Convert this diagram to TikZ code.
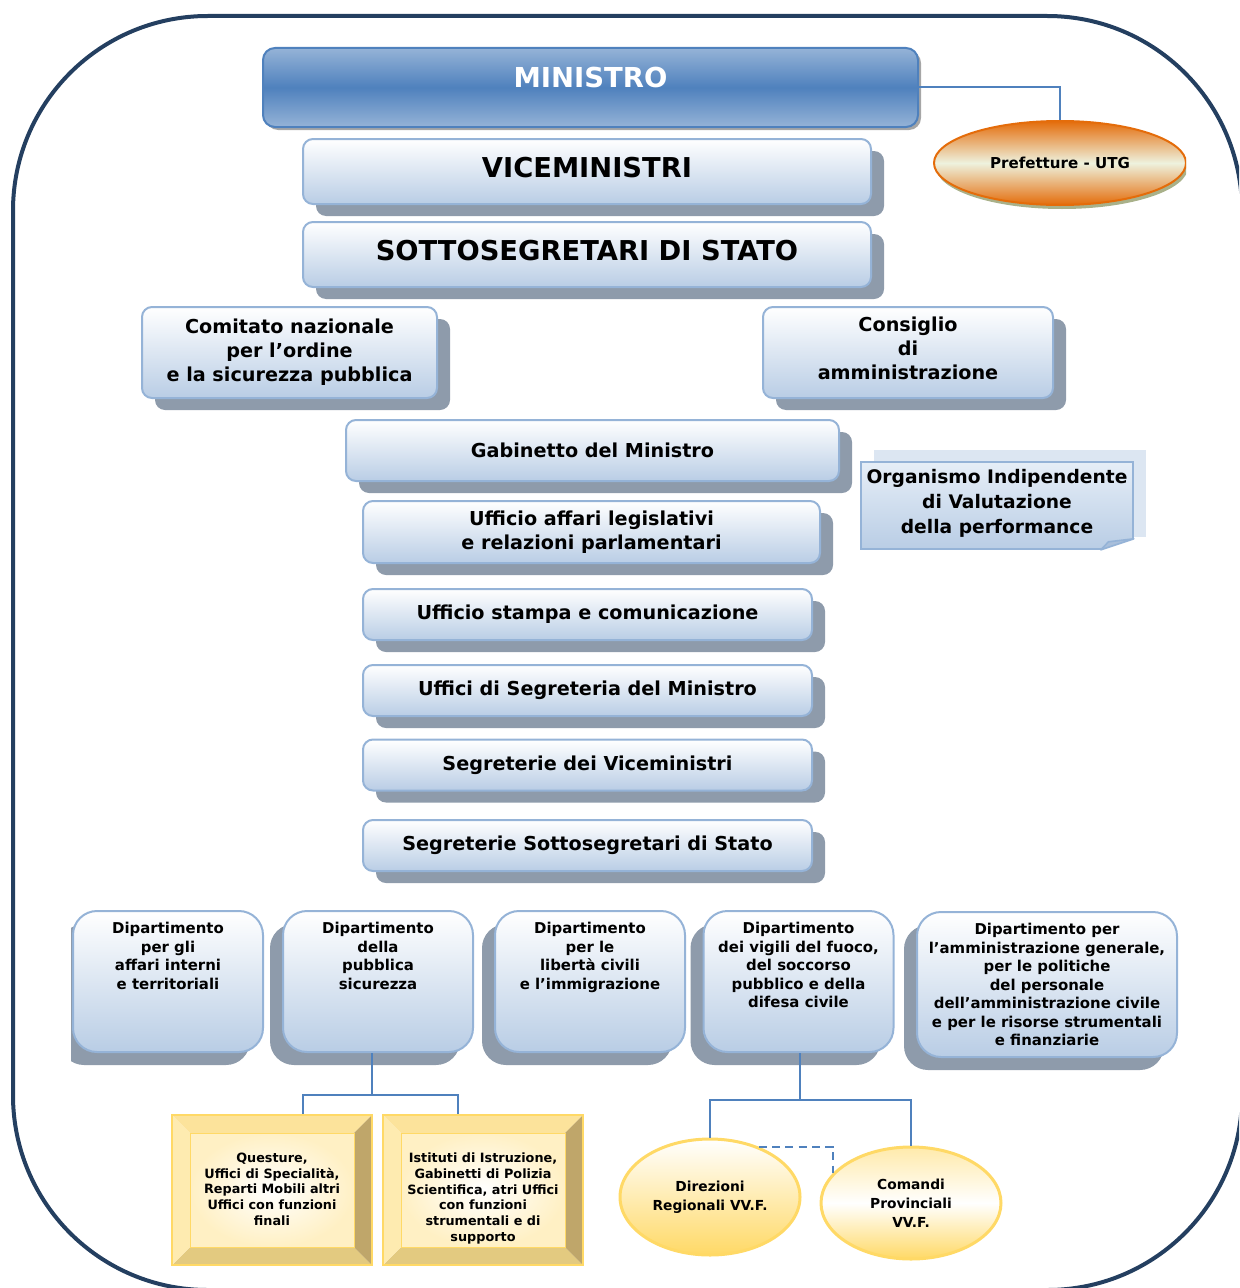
\documentclass[tikz,border=0pt]{standalone}
\usepackage{fontspec}
\setmainfont{DejaVu Sans}
\usetikzlibrary{shapes.geometric,shadows}

\definecolor{frameblue}{HTML}{243F60}
\definecolor{linkblue}{HTML}{4F81BD}
\definecolor{boxline}{HTML}{95B3D7}
\definecolor{boxlow}{HTML}{B9CDE5}
\definecolor{shadowgray}{HTML}{8E9BAB}
\definecolor{minlight}{HTML}{95B3D7}
\definecolor{mindark}{HTML}{4F81BD}
\definecolor{notebg}{HTML}{DCE6F2}
\definecolor{noteup}{HTML}{E6EEF7}
\definecolor{foldblue}{HTML}{A9BFDB}
\definecolor{orangeedge}{HTML}{E46C0A}
\definecolor{cream}{HTML}{EEF2DE}
\definecolor{prefshadow}{HTML}{A9B18A}
\definecolor{gold}{HTML}{FFD966}
\definecolor{goldlight}{HTML}{FFF0C4}
\definecolor{bevtop}{HTML}{FCE39B}
\definecolor{bevleft}{HTML}{FEEBB0}
\definecolor{bevright}{HTML}{BFA66A}
\definecolor{bevbottom}{HTML}{E3CA80}

\tikzset{
  outerframe/.style={draw=frameblue, line width=3pt, rounded corners=146pt},
  link/.style={draw=linkblue, line width=1.5pt},
  panel/.style={rounded corners=7.5pt, draw=boxline, line width=1.5pt, top color=white, bottom color=boxlow, inner sep=0pt, align=center},
  box/.style={panel, font=\bfseries\fontsize{14.4}{18}\selectfont, drop shadow={shadow xshift=9.75pt, shadow yshift=-9pt, fill=shadowgray, opacity=1}},
  bigbox/.style={box, minimum width=426pt, minimum height=48.75pt, text depth=6.5pt, font=\bfseries\fontsize{20.5}{24}\selectfont},
  office/.style={box, minimum width=336.75pt, minimum height=38.25pt},
  minbox/.style={rounded corners=9pt, draw=linkblue, line width=1.5pt, top color=minlight, bottom color=minlight, middle color=mindark, text=white, inner sep=0pt, minimum width=491.25pt, minimum height=59.25pt, text depth=15pt, font=\bfseries\fontsize{20.6}{24}\selectfont, drop shadow={shadow xshift=2.25pt, shadow yshift=-2.25pt, fill=gray!70, opacity=1}},
  note/.style={draw=boxline, line width=1.2pt, top color=noteup, bottom color=boxlow, inner sep=0pt, align=center, minimum width=204pt, minimum height=65.25pt, text depth=6pt, font=\bfseries\fontsize{14}{19}\selectfont, drop shadow={shadow xshift=9.75pt, shadow yshift=9pt, fill=notebg, opacity=1}},
  pref/.style={ellipse, draw=orangeedge, line width=1.5pt, top color=orangeedge, bottom color=orangeedge, middle color=cream, inner sep=0pt, minimum width=189pt, minimum height=63pt, font=\bfseries\fontsize{11.3}{14}\selectfont, drop shadow={shadow xshift=1.5pt, shadow yshift=-3pt, fill=prefshadow, opacity=1}},
  dtext/.style={anchor=north, yshift=-9pt, inner sep=0pt, align=center, font=\bfseries\fontsize{11.2}{13.9}\selectfont},
  dept/.style={panel, rounded corners=18pt, minimum width=142.5pt, minimum height=105.75pt, drop shadow={shadow xshift=-9.75pt, shadow yshift=-9.75pt, fill=shadowgray, opacity=1}, label={[dtext]north:#1}},
  ytext/.style={anchor=north, yshift=-29pt, inner sep=0pt, align=center, font=\bfseries\fontsize{9.6}{11.8}\selectfont},
  ybox/.style={draw=gold, line width=1.5pt, inner sep=0pt, minimum width=150pt, minimum height=112.5pt,
    path picture={
      \fill[bevtop] (path picture bounding box.north west) -- (path picture bounding box.north east) -- ([shift={(-13.5pt,-13.5pt)}]path picture bounding box.north east) -- ([shift={(13.5pt,-13.5pt)}]path picture bounding box.north west) -- cycle;
      \fill[bevbottom] (path picture bounding box.south west) -- (path picture bounding box.south east) -- ([shift={(-13.5pt,13.5pt)}]path picture bounding box.south east) -- ([shift={(13.5pt,13.5pt)}]path picture bounding box.south west) -- cycle;
      \fill[bevleft] (path picture bounding box.north west) -- (path picture bounding box.south west) -- ([shift={(13.5pt,13.5pt)}]path picture bounding box.south west) -- ([shift={(13.5pt,-13.5pt)}]path picture bounding box.north west) -- cycle;
      \fill[bevright] (path picture bounding box.north east) -- (path picture bounding box.south east) -- ([shift={(-13.5pt,13.5pt)}]path picture bounding box.south east) -- ([shift={(-13.5pt,-13.5pt)}]path picture bounding box.north east) -- cycle;
      \shadedraw[inner color=white, outer color=goldlight, draw=gold, line width=0.75pt] ([shift={(13.5pt,13.5pt)}]path picture bounding box.south west) rectangle ([shift={(-13.5pt,-13.5pt)}]path picture bounding box.north east);
    },
    label={[ytext]north:#1}},
  vvf/.style={ellipse, draw=gold, line width=2.25pt, top color=white, bottom color=gold, inner sep=0pt, minimum width=135pt, minimum height=87pt, align=center, font=\bfseries\fontsize{10.35}{14.25}\selectfont}
}

\begin{document}
\begin{tikzpicture}[x=0.75pt,y=-0.75pt]
\useasboundingbox (0,0) rectangle (1239,1288);
\begin{scope}
  \clip (0,0) rectangle (1239,1288);
  \draw[outerframe] (13,16) rectangle (1242,1290);
\end{scope}

\node[minbox] (min) at (590.5,87.5) {MINISTRO};
\begin{scope}
  \clip (0,0) rectangle (1186,1288);
  \node[pref] (pref) at (1060,163) {Prefetture - UTG};
\end{scope}
\node[bigbox] (vice) at (587,171.5) {VICEMINISTRI};
\node[bigbox] (sotto) at (587,254.5) {SOTTOSEGRETARI DI STATO};

\node[box, minimum width=221.25pt, minimum height=68.25pt] (cnosp) at (289.5,352.5) {Comitato nazionale\\per l’ordine\\e la sicurezza pubblica};
\node[box, minimum width=217.5pt, minimum height=68.25pt, text depth=6pt] (cda) at (908,352.5) {Consiglio\\di\\amministrazione};

\node[box, minimum width=369.75pt, minimum height=45.75pt] (gab) at (592.5,450.5) {Gabinetto del Ministro};
\node[note] (oiv) at (997,505.5) {Organismo Indipendente\\di Valutazione\\della performance};
\fill[white] ([xshift=-24.75pt]oiv.south east) -- ([shift={(2pt,-2pt)}]oiv.south east) -- ([yshift=8.25pt]oiv.south east) -- cycle;
\filldraw[fill=foldblue, draw=boxline, line width=1.2pt, line join=round] ([xshift=-24.75pt]oiv.south east) -- ([yshift=8.25pt]oiv.south east) -- ([shift={(-19pt,6pt)}]oiv.south east) -- cycle;

\node[box, minimum width=342.75pt, minimum height=46.5pt] (ufleg) at (591.5,532) {Ufficio affari legislativi\\e relazioni parlamentari};
\node[office] (ufst) at (587.5,614.5) {Ufficio stampa e comunicazione};
\node[office] (ufseg) at (587.5,690.5) {Uffici di Segreteria del Ministro};
\node[office] (segvm) at (587.5,765) {Segreterie dei Viceministri};
\node[office] (segss) at (587.5,845.5) {Segreterie Sottosegretari di Stato};

\begin{scope}
  \clip (71,0) rectangle (1239,1288);
  \node[dept={Dipartimento\\per gli\\affari interni\\e territoriali}] (dai) at (168,981.5) {};
\end{scope}
\node[dept={Dipartimento\\della\\pubblica\\sicurezza}] (dps) at (378,981.5) {};
\node[dept={Dipartimento\\per le\\libertà civili\\e l’immigrazione}] (dlci) at (590,981.5) {};
\node[dept={Dipartimento\\dei vigili del fuoco,\\del soccorso\\pubblico e della\\difesa civile}] (dvvf) at (798.5,981.5) {};
\node[dept={Dipartimento per\\l’amministrazione generale,\\per le politiche\\del personale\\dell’amministrazione civile\\e per le risorse strumentali\\e finanziarie}, minimum width=195pt, minimum height=108.75pt] (dag) at (1047,984.5) {};

\node[ybox={Questure,\\Uffici di Specialità,\\Reparti Mobili altri\\Uffici con funzioni\\finali}] (quest) at (272,1190) {};
\node[ybox={Istituti di Istruzione,\\Gabinetti di Polizia\\Scientifica, atri Uffici\\con funzioni\\strumentali e di\\supporto}] (istr) at (483,1190) {};

\node[vvf] (drvf) at (710,1197) {Direzioni\\Regionali VV.F.};
\node[vvf, top color=gold!55, bottom color=gold, middle color=white, minimum height=84pt] (cpvf) at (911,1203) {Comandi\\Provinciali\\VV.F.};

\draw[link] (min.east) -| (pref.north);
\coordinate (jps) at (372,1095);
\draw[link] (dps.south -| jps) -- (jps);
\draw[link] (jps) -| ([xshift=23.25pt]quest.north);
\draw[link] (jps) -| ([xshift=-18.75pt]istr.north);
\coordinate (jvf) at (800,1100);
\draw[link] (dvvf.south -| jvf) -- (jvf);
\draw[link] (jvf) -| (drvf.north);
\draw[link] (jvf) -| (cpvf.north);
\draw[link, dash pattern=on 6pt off 4pt] (drvf.46) -| (cpvf.159);
\end{tikzpicture}
\end{document}
